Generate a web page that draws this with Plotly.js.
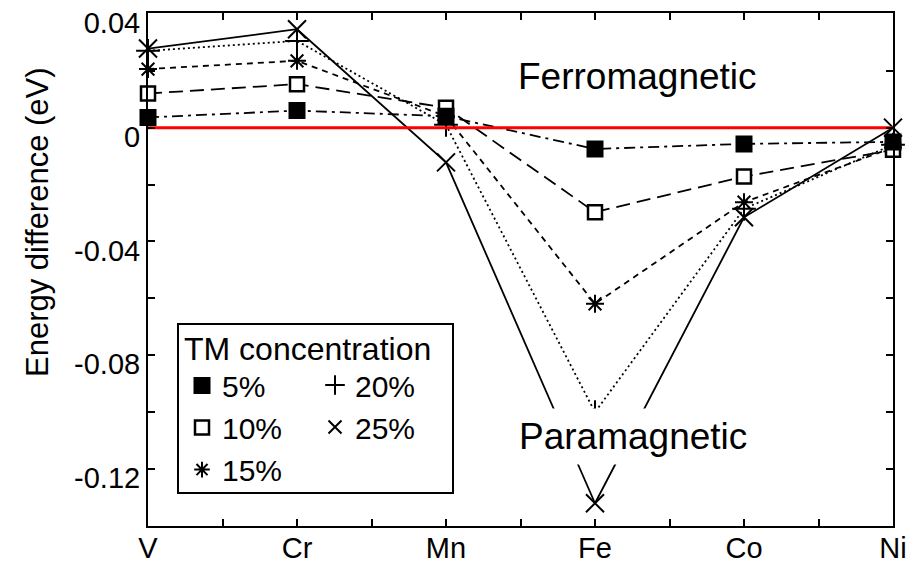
<!DOCTYPE html>
<html><head><meta charset="utf-8">
<script src="https://cdn.plot.ly/plotly-3.0.1.min.js"></script>
<style>html,body{margin:0;padding:0;background:#fff}#chart{width:916px;height:563px}</style>
</head><body><div id="chart"></div>
<script>
// ---- data ----
const elements = ['V', 'Cr', 'Mn', 'Fe', 'Co', 'Ni'];
const seriesNames = ['5%', '10%', '15%', '20%', '25%'];
const tm5  = [0.0036, 0.0060, 0.0040, -0.0075, -0.0057, -0.0050];
const tm10 = [0.0120, 0.0153, 0.0070, -0.0297, -0.0172, -0.0078];
const tm15 = [0.0206, 0.0235, 0.0040, -0.0619, -0.0262, -0.0070];
const tm20 = [0.0270, 0.0305, 0.0010, -0.1000, -0.0285, -0.0060];
const tm25 = [0.0278, 0.0346, -0.0122, -0.1320, -0.0315, 0.0000];
const zeroRef = [0, 0];
const yTickVals = [0.04, 0.02, 0, -0.02, -0.04, -0.06, -0.08, -0.10, -0.12, -0.14];
const yTickText = ['0.04', '', '0', '', '-0.04', '', '-0.08', '', '-0.12', ''];
const legendTitle = 'TM concentration';
const yTitle = 'Energy difference (eV)';
const labelFerro = 'Ferromagnetic';
const labelPara = 'Paramagnetic';

// ---- derived ----
const xIdx = elements.map((_, i) => i);
const xTickVals = [], xTickText = [];
for (let k = 0; k <= 2 * (elements.length - 1); k++) {
  xTickVals.push(k / 2);
  xTickText.push(k % 2 === 0 ? elements[k / 2] : '');
}
const allSeries = [tm5, tm10, tm15, tm20, tm25];

const FONT = 'Liberation Sans, Arial, sans-serif';
const styles = [
  {dash: '11px,5px,3px,5px', symbol: 'square', fill: 'black', size: 15, lsize: 15, lw: 2},
  {dash: '14px,7px', symbol: 'square', fill: 'white', size: 14, lsize: 14, lw: 2.5},
  {dash: '6px,5px', symbol: 'asterisk-open', fill: 'black', size: 15, lsize: 13, lw: 2},
  {dash: '2px,3px', symbol: 'cross-thin-open', fill: 'black', size: 17, lsize: 14, lw: 2},
  {dash: 'solid', symbol: 'x-thin-open', fill: 'black', size: 18, lsize: 13, lw: 2}
];
const legendOf = ['legend', 'legend', 'legend', 'legend2', 'legend2'];

const traces = [];
for (let s = allSeries.length - 1; s >= 0; s--) {
  const st = styles[s];
  traces.push({
    x: xIdx, y: allSeries[s], type: 'scatter', mode: 'lines+markers',
    name: seriesNames[s], showlegend: false, cliponaxis: false,
    line: {color: 'black', width: 1.8, dash: st.dash},
    marker: {symbol: st.symbol, size: st.size, color: st.fill,
             line: {color: 'black', width: st.lw}}
  });
}
traces.push({
  x: [xIdx[0], xIdx[xIdx.length - 1]], y: zeroRef, type: 'scatter', mode: 'lines',
  showlegend: false, line: {color: '#ff0000', width: 3}, hoverinfo: 'skip'
});
for (let s = 0; s < allSeries.length; s++) {
  const st = styles[s];
  traces.push({
    x: [null], y: [null], type: 'scatter', mode: 'markers', name: seriesNames[s],
    legend: legendOf[s], showlegend: true,
    marker: {symbol: st.symbol, size: st.lsize, color: st.fill,
             line: {color: 'black', width: st.lw}}
  });
}

const W = 916, H = 563, L = 148, R = 23, T = 13, B = 37;
const pw = W - L - R, ph = H - T - B;
const px2x = p => (p - L) / pw;
const px2y = p => (H - B - p) / ph;

const layout = {
  width: W, height: H,
  margin: {l: L, r: R, t: T, b: B},
  paper_bgcolor: 'white', plot_bgcolor: 'white',
  font: {family: FONT, color: 'black', size: 29},
  showlegend: true,
  xaxis: {
    range: [0, elements.length - 1], tickmode: 'array', tickvals: xTickVals, ticktext: xTickText,
    ticks: 'inside', ticklen: 7, tickwidth: 2, tickcolor: 'black',
    showline: true, linewidth: 2, linecolor: 'black', mirror: 'ticks',
    showgrid: false, zeroline: false, ticklabelstandoff: -5,
    tickfont: {size: 29, family: FONT, color: 'black'}
  },
  yaxis: {
    range: [-0.14, 0.0403], tickmode: 'array', tickvals: yTickVals, ticktext: yTickText,
    ticks: 'inside', ticklen: 7, tickwidth: 2, tickcolor: 'black',
    showline: true, linewidth: 2, linecolor: 'black', mirror: 'ticks',
    showgrid: false, zeroline: false, ticklabeloverflow: 'allow', ticklabelshift: 9,
    tickfont: {size: 29, family: FONT, color: 'black'}
  },
  legend: {
    x: px2x(182), y: px2y(318), xanchor: 'left', yanchor: 'top',
    bgcolor: 'rgba(0,0,0,0)', borderwidth: 0,
    font: {size: 30, family: FONT, color: 'black'},
    title: {text: legendTitle, font: {size: 32, family: FONT, color: 'black'}},
    itemsizing: 'trace', traceorder: 'normal'
  },
  legend2: {
    x: px2x(315), y: px2y(359), xanchor: 'left', yanchor: 'top',
    bgcolor: 'rgba(0,0,0,0)', borderwidth: 0,
    font: {size: 30, family: FONT, color: 'black'},
    itemsizing: 'trace', traceorder: 'normal'
  },
  shapes: [{
    type: 'rect', xref: 'paper', yref: 'paper',
    x0: px2x(178), x1: px2x(453), y0: px2y(493), y1: px2y(324),
    line: {color: 'black', width: 2}, fillcolor: 'white', layer: 'above'
  }],
  annotations: [
    {text: labelFerro, xref: 'paper', yref: 'paper', x: px2x(637), y: px2y(76),
     xanchor: 'center', yanchor: 'middle',
     showarrow: false, font: {size: 37, family: FONT, color: 'black'}},
    {text: labelPara, xref: 'paper', yref: 'paper', x: px2x(633), y: px2y(436),
     xanchor: 'center', yanchor: 'middle',
     showarrow: false, font: {size: 37, family: FONT, color: 'black'},
     bgcolor: 'white', borderpad: 7},
    {text: yTitle, xref: 'paper', yref: 'paper', x: px2x(37), y: px2y(222),
     xanchor: 'center', yanchor: 'middle', textangle: -90,
     showarrow: false, font: {size: 31, family: FONT, color: 'black'}}
  ]
};

Plotly.newPlot('chart', traces, layout, {displayModeBar: false, staticPlot: true});
</script>
</body></html>
